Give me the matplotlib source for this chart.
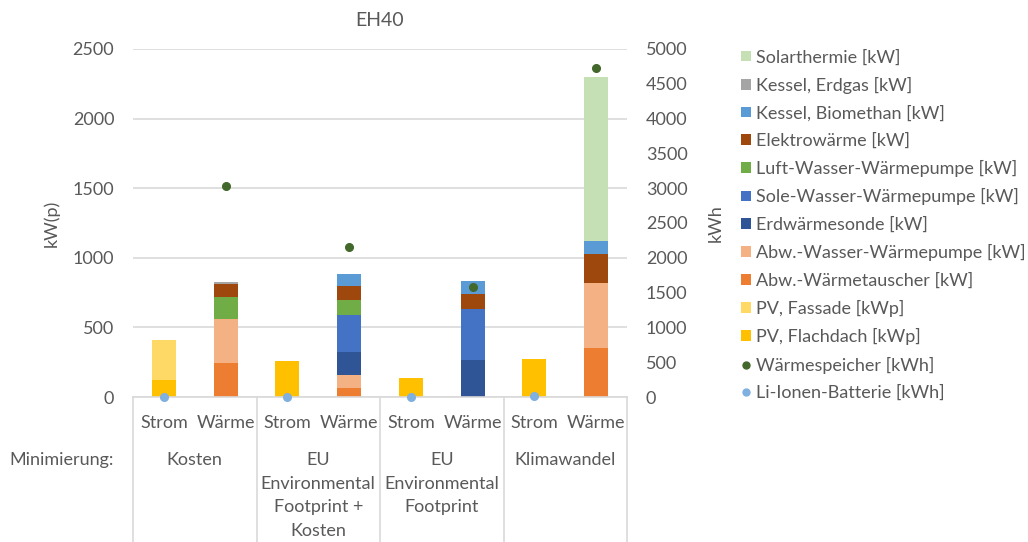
import matplotlib
matplotlib.use("Agg")
import matplotlib.pyplot as plt
from matplotlib.patches import Patch
from matplotlib.lines import Line2D
import numpy as np

plt.rcParams['font.family'] = ['Lato', 'DejaVu Sans']

groups = ["Kosten", "EU\nEnvironmental\nFootprint +\nKosten", "EU\nEnvironmental\nFootprint", "Klimawandel"]
subcats = ["Strom", "Wärme"]

# values per bar: [Strom, Wärme] x 4 groups
series_names = [
    "PV, Flachdach [kWp]", "PV, Fassade [kWp]", "Abw.-Wärmetauscher [kW]",
    "Abw.-Wasser-Wärmepumpe [kW]", "Erdwärmesonde [kW]", "Sole-Wasser-Wärmepumpe [kW]",
    "Luft-Wasser-Wärmepumpe [kW]", "Elektrowärme [kW]", "Kessel, Biomethan [kW]",
    "Kessel, Erdgas [kW]", "Solarthermie [kW]",
]
pv_flachdach       = [120, 0, 260, 0, 140, 0, 275, 0]
pv_fassade         = [290, 0, 0, 0, 0, 0, 0, 0]
abw_waermetauscher = [0, 246, 0, 67, 0, 0, 0, 354]
abw_wasser_wp      = [0, 316, 0, 91, 0, 0, 0, 465]
erdwaermesonde     = [0, 0, 0, 165, 0, 266, 0, 0]
sole_wasser_wp     = [0, 0, 0, 264, 0, 364, 0, 0]
luft_wasser_wp     = [0, 156, 0, 112, 0, 5, 0, 0]
elektrowaerme      = [0, 96, 0, 96, 0, 105, 0, 210]
kessel_biomethan   = [0, 0, 0, 86, 0, 93, 0, 92]
kessel_erdgas      = [0, 14, 0, 0, 0, 0, 0, 0]
solarthermie       = [0, 0, 0, 0, 0, 0, 0, 1178]

waermespeicher = [3027, 2159, 1580, 4731]   # kWh, at Wärme bars
li_ionen       = [0, 0, 0, 10]              # kWh, at Strom bars

series_values = [pv_flachdach, pv_fassade, abw_waermetauscher, abw_wasser_wp,
                 erdwaermesonde, sole_wasser_wp, luft_wasser_wp, elektrowaerme,
                 kessel_biomethan, kessel_erdgas, solarthermie]
series_colors = ["#FFC000", "#FFD966", "#ED7D31", "#F4B183", "#2F5597", "#4472C4",
                 "#70AD47", "#9E480E", "#5B9BD5", "#A5A5A5", "#C5E0B4"]
ws_color = "#43682B"
li_color = "#7FB0E0"

txt = "#595959"
grid = "#D9D9D9"
FS = 13

W, H = 1028, 542
fig = plt.figure(figsize=(W / 100, H / 100), dpi=100)
ax_l, ax_r, ax_t, ax_b = 133, 627, 49, 397
ax = fig.add_axes([ax_l / W, 1 - ax_b / H, (ax_r - ax_l) / W, (ax_b - ax_t) / H])
ax2 = ax.twinx()

def fy(py):
    return 1 - py / H

n = len(groups) * len(subcats)
x = np.arange(n)
bottom = np.zeros(n)
for vals, col in zip(series_values, series_colors):
    v = np.array(vals, dtype=float)
    ax.bar(x, v, 0.39, bottom=bottom, color=col, linewidth=0, zorder=3)
    bottom += v

strom_x = x[0::2]
waerme_x = x[1::2]
ax2.plot(waerme_x, waermespeicher, 'o', color=ws_color, ms=5.5, zorder=5, clip_on=False)
ax2.plot(strom_x, li_ionen, 'o', color=li_color, ms=5.5, zorder=5, clip_on=False)

ax.set_xlim(-0.5, n - 0.5)
ax.set_ylim(0, 2500)
ax2.set_ylim(0, 5000)
ax.set_yticks(np.arange(0, 2501, 500))
ax2.set_yticks(np.arange(0, 5001, 500))
ax.set_xticks([])
for a in (ax, ax2):
    for s in a.spines.values():
        s.set_visible(False)
    a.tick_params(axis='y', length=0, labelsize=FS, colors=txt)
ax.tick_params(axis='y', pad=13.5)
ax2.tick_params(axis='y', pad=13.5)
ax.yaxis.grid(True, color=grid, linewidth=1.2, zorder=0)
ax.set_axisbelow(True)
ax.set_ylabel("kW(p)", fontsize=FS, color=txt)
ax2.set_ylabel("kWh", fontsize=FS, color=txt)
aw = ax_r - ax_l
ax.yaxis.set_label_coords((60 - ax_l) / aw, 0.5)
ax2.yaxis.set_label_coords((708 - ax_l) / aw, 0.5)
fig.text((ax_l + ax_r) / 2 / W, fy(20), "EH40", fontsize=14, color=txt, ha='center', va='center')

# category axis lines
bot_frac = -(H - ax_b) / (ax_b - ax_t)
trans = ax.get_xaxis_transform()
ax.plot([-0.5, n - 0.5], [0, 0], color=grid, lw=1.2, transform=trans, clip_on=False, zorder=4)
for gx in np.arange(-0.5, n, 2):
    ax.plot([gx, gx], [0, bot_frac], color=grid, lw=1.2, transform=trans, clip_on=False)

to_fig = fig.transFigure.inverted()
for xi in x:
    xf = to_fig.transform(ax.transData.transform((xi, 0)))[0]
    fig.text(xf, fy(423), subcats[xi % 2], fontsize=FS, color=txt, ha='center', va='center')
for gi, g in enumerate(groups):
    xf = to_fig.transform(ax.transData.transform((2 * gi + 0.5, 0)))[0]
    for li, line in enumerate(g.split("\n")):
        fig.text(xf, fy(460 + li * 23.7), line, fontsize=FS, color=txt, ha='center', va='center')
fig.text(9 / W, fy(460), "Minimierung:", fontsize=FS, color=txt, ha='left', va='center')

# legend
handles = []
labels = []
for name, col in reversed(list(zip(series_names, series_colors))):
    handles.append(Patch(facecolor=col, edgecolor='none'))
    labels.append(name)
handles.append(Line2D([], [], marker='o', ls='none', color=ws_color, ms=5))
labels.append("Wärmespeicher [kWh]")
handles.append(Line2D([], [], marker='o', ls='none', color=li_color, ms=5))
labels.append("Li-Ionen-Batterie [kWh]")
leg = fig.legend(handles, labels, loc='upper left', bbox_to_anchor=(733.5 / W, fy(42)),
                 frameon=False, fontsize=FS, labelcolor=txt, handlelength=0.55,
                 handleheight=0.55, handletextpad=0.3, labelspacing=0.624,
                 borderaxespad=0)

fig.savefig("out.png", dpi=100)
